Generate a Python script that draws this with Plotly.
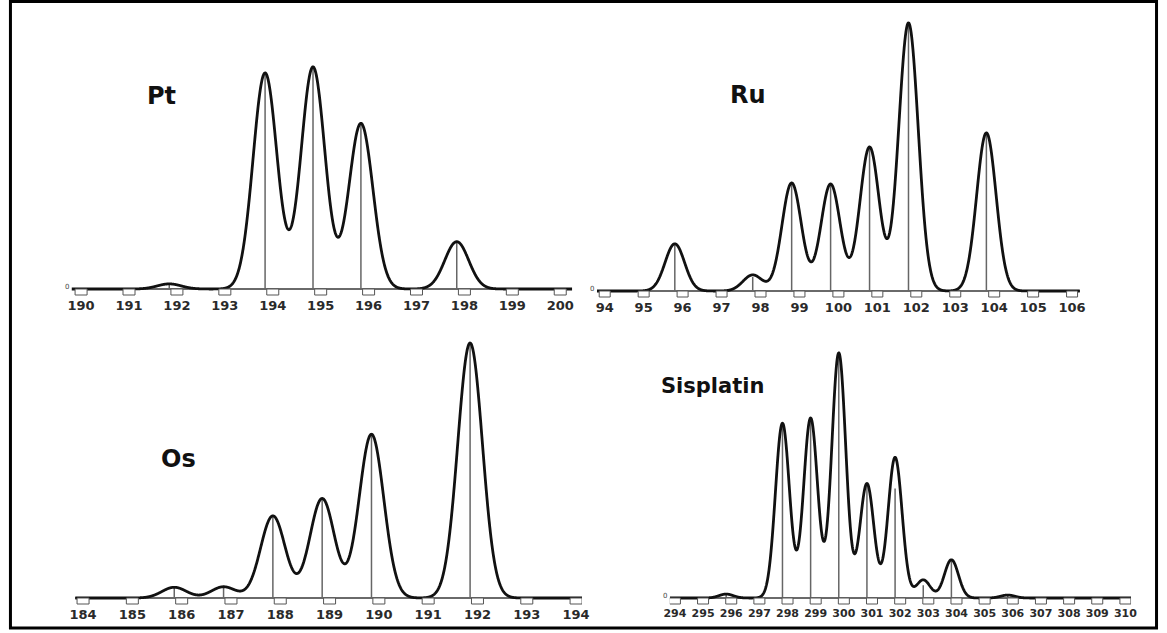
import numpy as np
import plotly.graph_objects as go

W, H = 1167, 633

# ---------------- data (relative intensities) ----------------
pt_mass = [192, 194, 195, 196, 198]
pt_peak = [2.3, 97.3, 100.0, 74.6, 21.3]
pt_stick = [2.3, 97.3, 100.0, 74.6, 21.3]
pt_ticks = list(range(190, 201))

ru_mass = [96, 98, 99, 100, 101, 102, 104]
ru_peak = [17.6, 6.0, 40.3, 39.9, 53.7, 100.0, 59.0]
ru_stick = [17.6, 5.2, 40.3, 39.9, 53.7, 100.0, 59.0]
ru_ticks = list(range(94, 107))

os_mass = [186, 187, 188, 189, 190, 192]
os_peak = [4.2, 4.4, 32.2, 39.0, 64.2, 100.0]
os_stick = [4.2, 4.4, 32.2, 39.0, 64.2, 100.0]
os_ticks = list(range(184, 195))

cis_mass = [296, 298, 299, 300, 301, 302, 303, 304, 306]
cis_peak = [1.6, 71.3, 73.4, 100.0, 46.7, 57.4, 7.4, 15.6, 1.2]
cis_stick = [1.6, 71.3, 73.4, 100.0, 46.7, 44.7, 5.2, 15.6, 1.2]
cis_ticks = list(range(294, 311))

# ---------------- panel layout (pixel geometry) ----------------
panels = [
    dict(name="Pt", mass=pt_mass, peak=pt_peak, stick=pt_stick, ticks=pt_ticks,
         xr=[189.8, 200.25], px=[66.3, 573.1], base=289, ppu=2.22, ytop=120,
         shift=-0.16, title_xy=(157, 96), title_size=24, tick_size=13, box_w=12,
         zero_label=True),
    dict(name="Ru", mass=ru_mass, peak=ru_peak, stick=ru_stick, ticks=ru_ticks,
         xr=[93.8, 106.2], px=[598.1, 1086.9], base=291, ppu=2.68, ytop=105,
         shift=-0.2, title_xy=(751, 95), title_size=24, tick_size=13, box_w=11,
         zero_label=True),
    dict(name="Os", mass=os_mass, peak=os_peak, stick=os_stick, ticks=os_ticks,
         xr=[183.84, 194.12], px=[70.0, 583.0], base=598, ppu=2.55, ytop=105,
         shift=-0.15, title_xy=(175, 459), title_size=24, tick_size=13, box_w=12,
         zero_label=False),
    dict(name="Sisplatin", mass=cis_mass, peak=cis_peak, stick=cis_stick, ticks=cis_ticks,
         xr=[293.82, 310.2], px=[671.9, 1138.7], base=598, ppu=2.45, ytop=105,
         shift=-0.18, title_xy=(715, 386), title_size=21, tick_size=11, box_w=11,
         zero_label=True),
]

SIGMA = 0.25
PAD_PX = 7  # room below the baseline for the tick boxes

fig = go.Figure()
layout_axes = {}
shapes = []
annotations = []

for i, p in enumerate(panels):
    k = "" if i == 0 else str(i + 1)
    xa, ya = "x" + k, "y" + k
    xd = [p["px"][0] / W, p["px"][1] / W]
    ylow = -PAD_PX / p["ppu"]
    y_bottom_px = p["base"] + PAD_PX
    y_top_px = p["base"] - p["ytop"] * p["ppu"]
    yd = [1 - y_bottom_px / H, 1 - y_top_px / H]

    # sticks
    sx, sy = [], []
    for m, h in zip(p["mass"], p["stick"]):
        sx += [m + p["shift"], m + p["shift"], None]
        sy += [0, h, None]
    fig.add_trace(go.Scatter(x=sx, y=sy, mode="lines", xaxis=xa, yaxis=ya,
                             line=dict(color="#666666", width=1.5),
                             showlegend=False, hoverinfo="skip"))

    # envelope (Gaussian broadening of the sticks)
    xs = np.linspace(p["xr"][0], p["xr"][1], 2500)
    env = np.zeros_like(xs)
    for m, h in zip(p["mass"], p["peak"]):
        env += h * np.exp(-0.5 * ((xs - (m + p["shift"])) / SIGMA) ** 2)
    fig.add_trace(go.Scatter(x=xs, y=env, mode="lines", xaxis=xa, yaxis=ya,
                             line=dict(color="#111111", width=2.8, simplify=False),
                             showlegend=False, hoverinfo="skip"))

    layout_axes["xaxis" + k] = dict(
        domain=xd, range=p["xr"], anchor=ya,
        tickmode="array", tickvals=p["ticks"], ticktext=[str(t) for t in p["ticks"]],
        showgrid=False, zeroline=False, showline=False, ticks="",
        tickfont=dict(family="DejaVu Sans", size=p["tick_size"], color="#2a2a2a",
                      weight="bold"),
        ticklabelstandoff=0, fixedrange=True,
    )
    layout_axes["yaxis" + k] = dict(
        domain=yd, range=[ylow, p["ytop"]], anchor=xa,
        showgrid=False, showticklabels=False, ticks="", showline=False,
        zeroline=True, zerolinecolor="#6a6a6a", zerolinewidth=1.5, fixedrange=True,
    )

    # little tick boxes below the baseline
    for t in p["ticks"]:
        half = p["box_w"] / 2
        shapes.append(dict(
            type="rect", xref=xa, yref=ya,
            xsizemode="pixel", ysizemode="pixel", xanchor=t, yanchor=0,
            x0=-half, x1=half, y0=-6, y1=0,
            line=dict(color="#555555", width=1), fillcolor="white", layer="above",
        ))

    if p["zero_label"]:
        annotations.append(dict(
            x=p["xr"][0], y=0, xref=xa, yref=ya, text="0", showarrow=False,
            xanchor="right", yanchor="middle", xshift=-1, yshift=2,
            font=dict(family="DejaVu Sans", size=7, color="#444444"),
        ))

    tx, ty = p["title_xy"]
    annotations.append(dict(
        x=tx / W, y=1 - ty / H, xref="paper", yref="paper", text=p["name"],
        showarrow=False, xanchor="center", yanchor="middle",
        font=dict(family="DejaVu Sans", size=p["title_size"], color="#111111",
                  weight="bold"),
    ))

# outer frame
shapes.append(dict(type="rect", xref="paper", yref="paper",
                   x0=4.5 / W, x1=1164.5 / W, y0=1 - 628 / H, y1=1 - 1.5 / H,
                   line=dict(color="black", width=3), fillcolor="rgba(0,0,0,0)",
                   layer="above"))

fig.update_layout(
    width=W, height=H,
    margin=dict(l=0, r=0, t=0, b=0),
    paper_bgcolor="white", plot_bgcolor="white",
    showlegend=False,
    shapes=shapes, annotations=annotations,
    **layout_axes,
)

fig.write_html("out.html", include_plotlyjs=True, config={"displayModeBar": False})
